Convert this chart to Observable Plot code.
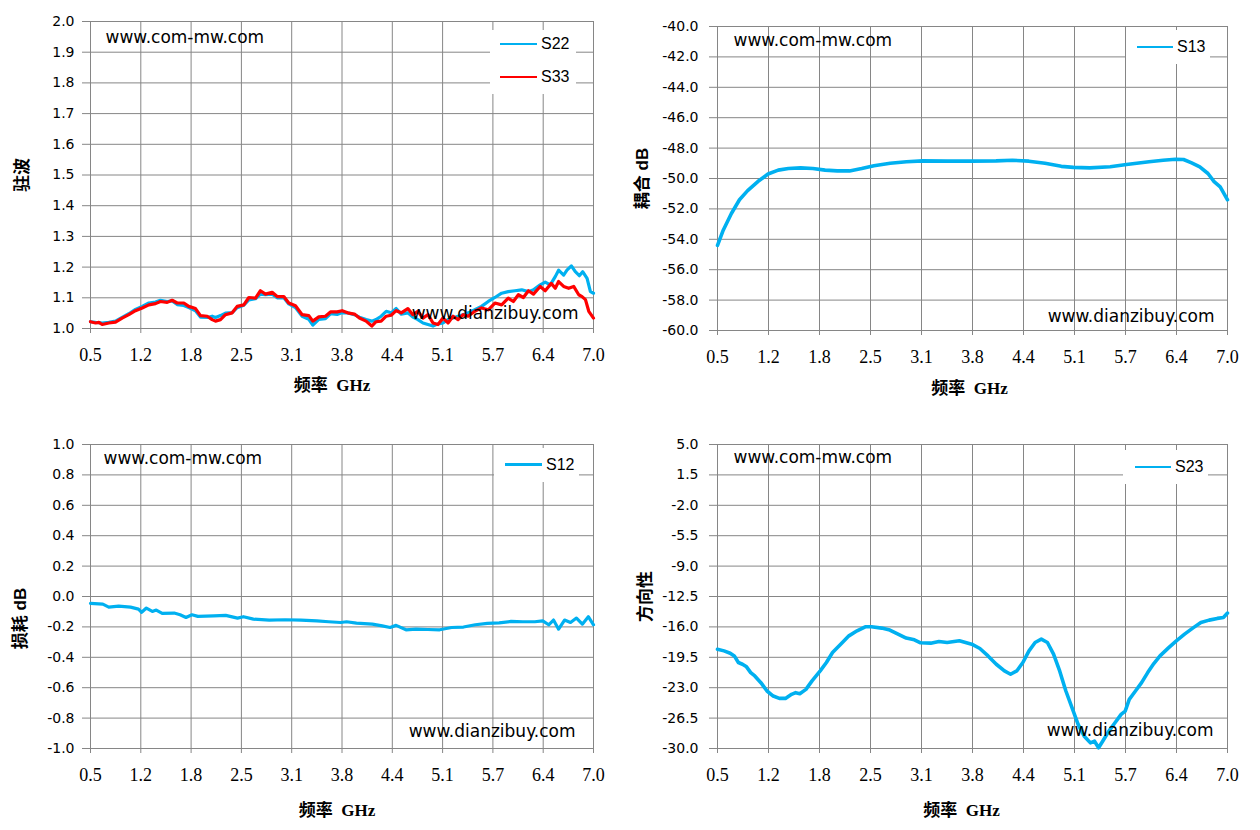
<!DOCTYPE html>
<html>
<head>
<meta charset="utf-8">
<script src="https://cdn.jsdelivr.net/npm/d3@7"></script>
<script src="https://cdn.jsdelivr.net/npm/@observablehq/plot@0.6"></script>
<style>
  body { margin: 0; background: #fff; }
  #root { position: relative; width: 1260px; height: 830px; background: #fff; overflow: hidden; }
  .panel { position: absolute; }
  .panel svg { display: block; overflow: visible; }
  g[aria-label="x-axis tick label"] { font-family: "Liberation Serif", serif; font-size: 18px; }
  g[aria-label="y-axis tick label"] { font-family: "DejaVu Sans", sans-serif; font-size: 14px; }
  g[aria-label="x-axis tick"], g[aria-label="y-axis tick"] { stroke: #868686; }
  g[aria-label="text"] text { white-space: pre; }
  .legend { position: absolute; background: #fff; }
  .legend .sw { position: absolute; height: 2.5px; }
  .legend .lb { position: absolute; font: 16px "Liberation Sans", sans-serif; line-height: 16px; color: #000; }
</style>
</head>
<body>
<div id="root"></div>
<script>
// ---------------- data (frequency GHz, value) ----------------
const xTickValues = [0.5, 1.15, 1.8, 2.45, 3.1, 3.75, 4.4, 5.05, 5.7, 6.35, 7.0];
const xTickLabels = ["0.5", "1.2", "1.8", "2.5", "3.1", "3.8", "4.4", "5.1", "5.7", "6.4", "7.0"];

const vswrTicks = [1.0, 1.1, 1.2, 1.3, 1.4, 1.5, 1.6, 1.7, 1.8, 1.9, 2.0];
const vswrLabels = ["1.0", "1.1", "1.2", "1.3", "1.4", "1.5", "1.6", "1.7", "1.8", "1.9", "2.0"];
const couplingTicks = [-60, -58, -56, -54, -52, -50, -48, -46, -44, -42, -40];
const couplingLabels = ["-60.0", "-58.0", "-56.0", "-54.0", "-52.0", "-50.0", "-48.0", "-46.0", "-44.0", "-42.0", "-40.0"];
const lossTicks = [-1.0, -0.8, -0.6, -0.4, -0.2, 0.0, 0.2, 0.4, 0.6, 0.8, 1.0];
const lossLabels = ["-1.0", "-0.8", "-0.6", "-0.4", "-0.2", "0.0", "0.2", "0.4", "0.6", "0.8", "1.0"];
const dirTicks = [-30, -26.5, -23, -19.5, -16, -12.5, -9, -5.5, -2, 1.5, 5];
const dirLabels = ["-30.0", "-26.5", "-23.0", "-19.5", "-16.0", "-12.5", "-9.0", "-5.5", "-2.0", "1.5", "5.0"];

const s22 = [
  [0.5,1.022],[0.565,1.02],[0.608,1.019],[0.651,1.018],[0.737,1.02],[0.823,1.024],[0.909,1.036],[0.995,1.048],
  [1.081,1.062],[1.168,1.072],[1.254,1.083],[1.34,1.086],[1.404,1.092],[1.491,1.088],[1.555,1.09],[1.62,1.078],
  [1.706,1.075],[1.77,1.068],[1.857,1.058],[1.921,1.037],[2.008,1.036],[2.072,1.04],[2.115,1.036],[2.18,1.042],
  [2.244,1.05],[2.331,1.052],[2.395,1.068],[2.481,1.076],[2.546,1.093],[2.632,1.097],[2.696,1.112],[2.761,1.11],
  [2.847,1.112],[2.912,1.1],[2.998,1.1],[3.062,1.08],[3.149,1.068],[3.235,1.04],[3.321,1.03],[3.373,1.011],
  [3.45,1.03],[3.536,1.032],[3.601,1.048],[3.687,1.046],[3.752,1.052],[3.823,1.051],[3.91,1.045],[3.975,1.037],
  [4.061,1.029],[4.135,1.024],[4.19,1.029],[4.256,1.04],[4.321,1.056],[4.385,1.051],[4.45,1.065],[4.515,1.047],
  [4.601,1.051],[4.666,1.037],[4.731,1.029],[4.796,1.018],[4.861,1.013],[4.926,1.008],[4.99,1.015],[5.055,1.018],
  [5.12,1.029],[5.185,1.034],[5.25,1.04],[5.315,1.045],[5.38,1.051],[5.466,1.061],[5.553,1.072],[5.64,1.088],
  [5.726,1.101],[5.813,1.115],[5.898,1.12],[5.985,1.123],[6.072,1.126],[6.159,1.12],[6.224,1.126],[6.311,1.142],
  [6.376,1.151],[6.441,1.142],[6.506,1.169],[6.549,1.19],[6.614,1.174],[6.657,1.19],[6.714,1.204],[6.765,1.185],
  [6.817,1.172],[6.86,1.185],[6.917,1.163],[6.96,1.12],[7.0,1.115]
];
const s33 = [
  [0.5,1.022],[0.565,1.018],[0.608,1.02],[0.651,1.013],[0.737,1.018],[0.823,1.021],[0.909,1.034],[0.995,1.045],
  [1.081,1.058],[1.168,1.067],[1.254,1.077],[1.34,1.081],[1.404,1.088],[1.491,1.085],[1.555,1.092],[1.62,1.083],
  [1.706,1.083],[1.77,1.072],[1.857,1.065],[1.921,1.042],[2.008,1.04],[2.072,1.029],[2.115,1.024],[2.18,1.029],
  [2.244,1.045],[2.331,1.051],[2.395,1.072],[2.481,1.077],[2.546,1.101],[2.632,1.099],[2.696,1.123],[2.761,1.112],
  [2.847,1.118],[2.912,1.104],[2.998,1.104],[3.062,1.083],[3.149,1.074],[3.235,1.045],[3.321,1.042],[3.373,1.024],
  [3.45,1.038],[3.536,1.04],[3.601,1.054],[3.687,1.054],[3.752,1.058],[3.823,1.051],[3.91,1.047],[3.975,1.034],
  [4.061,1.024],[4.135,1.008],[4.19,1.022],[4.256,1.024],[4.321,1.04],[4.385,1.043],[4.45,1.058],[4.515,1.051],
  [4.601,1.065],[4.666,1.045],[4.731,1.056],[4.796,1.034],[4.861,1.045],[4.926,1.018],[4.99,1.013],[5.055,1.034],
  [5.12,1.018],[5.185,1.04],[5.25,1.029],[5.315,1.045],[5.38,1.04],[5.466,1.056],[5.553,1.067],[5.64,1.061],
  [5.726,1.083],[5.813,1.077],[5.898,1.099],[5.964,1.088],[6.029,1.11],[6.094,1.101],[6.159,1.123],[6.224,1.112],
  [6.311,1.137],[6.376,1.123],[6.454,1.147],[6.506,1.131],[6.549,1.153],[6.614,1.137],[6.679,1.131],[6.744,1.137],
  [6.809,1.11],[6.852,1.104],[6.896,1.094],[6.939,1.056],[7.0,1.034]
];
const s13 = [
  [0.5,-54.4],[0.573,-53.4],[0.677,-52.3],[0.78,-51.4],[0.884,-50.8],[1.014,-50.2],[1.144,-49.7],[1.274,-49.45],
  [1.403,-49.34],[1.559,-49.3],[1.715,-49.34],[1.871,-49.45],[2.026,-49.5],[2.182,-49.5],[2.338,-49.34],[2.494,-49.16],
  [2.701,-49.0],[2.909,-48.9],[3.117,-48.84],[3.428,-48.86],[3.74,-48.86],[4.051,-48.84],[4.259,-48.8],[4.467,-48.86],
  [4.674,-49.0],[4.882,-49.2],[5.038,-49.27],[5.245,-49.3],[5.505,-49.23],[5.713,-49.08],[6.0,-48.9],[6.18,-48.8],
  [6.336,-48.73],[6.44,-48.75],[6.543,-48.97],[6.647,-49.23],[6.751,-49.67],[6.829,-50.2],[6.907,-50.55],[7.0,-51.4]
];
const s12 = [
  [0.5,-0.045],[0.659,-0.05],[0.736,-0.07],[0.864,-0.063],[1.017,-0.07],[1.12,-0.083],[1.161,-0.104],[1.222,-0.076],
  [1.299,-0.098],[1.35,-0.089],[1.427,-0.111],[1.581,-0.109],[1.658,-0.12],[1.734,-0.138],[1.811,-0.12],[1.888,-0.131],
  [2.093,-0.127],[2.247,-0.124],[2.4,-0.142],[2.477,-0.133],[2.605,-0.149],[2.81,-0.155],[3.015,-0.153],[3.22,-0.155],
  [3.425,-0.16],[3.578,-0.166],[3.732,-0.171],[3.809,-0.166],[3.937,-0.175],[4.142,-0.182],[4.27,-0.193],[4.372,-0.204],
  [4.449,-0.19],[4.577,-0.219],[4.705,-0.215],[4.859,-0.217],[5.012,-0.219],[5.166,-0.204],[5.32,-0.201],[5.473,-0.186],
  [5.627,-0.177],[5.781,-0.173],[5.935,-0.164],[6.088,-0.166],[6.242,-0.166],[6.344,-0.16],[6.421,-0.186],[6.483,-0.155],
  [6.549,-0.215],[6.626,-0.155],[6.703,-0.171],[6.78,-0.142],[6.856,-0.182],[6.933,-0.133],[7.0,-0.186]
];
const s23 = [
  [0.5,-18.57],[0.583,-18.76],[0.662,-19.03],[0.714,-19.34],[0.766,-20.1],[0.818,-20.3],[0.87,-20.6],[0.923,-21.26],
  [0.975,-21.65],[1.053,-22.42],[1.131,-23.38],[1.21,-23.96],[1.288,-24.23],[1.366,-24.23],[1.444,-23.76],[1.496,-23.57],
  [1.549,-23.69],[1.627,-23.19],[1.705,-22.22],[1.809,-21.07],[1.888,-20.1],[1.966,-18.95],[2.07,-17.99],[2.175,-17.03],
  [2.279,-16.45],[2.383,-15.99],[2.462,-15.99],[2.592,-16.14],[2.696,-16.37],[2.801,-16.83],[2.905,-17.29],[3.009,-17.49],
  [3.088,-17.83],[3.218,-17.87],[3.322,-17.68],[3.427,-17.8],[3.583,-17.6],[3.74,-17.99],[3.844,-18.49],[3.948,-19.34],
  [4.053,-20.3],[4.157,-21.07],[4.235,-21.45],[4.314,-21.07],[4.392,-20.1],[4.47,-18.76],[4.548,-17.8],[4.627,-17.41],
  [4.705,-17.8],[4.783,-19.14],[4.861,-21.07],[4.94,-23.38],[5.018,-25.3],[5.096,-27.23],[5.174,-28.58],[5.253,-29.35],
  [5.305,-29.16],[5.357,-29.92],[5.409,-29.16],[5.488,-28.0],[5.566,-27.04],[5.644,-26.07],[5.696,-25.69],[5.748,-24.34],
  [5.827,-23.38],[5.905,-22.42],[5.983,-21.26],[6.061,-20.22],[6.14,-19.34],[6.244,-18.45],[6.348,-17.6],[6.453,-16.83],
  [6.557,-16.14],[6.661,-15.49],[6.766,-15.22],[6.87,-15.02],[6.948,-14.91],[7.0,-14.41]
];

const BLUE = "#00B0F0";
const RED = "#FF0000";
const GRID = "#868686";

const rows = (pairs, series) => pairs.map(([f, v]) => ({f, v, series}));

function panel(cfg) {
  const wrap = document.createElement("div");
  wrap.className = "panel";
  wrap.style.left = cfg.left + "px";
  wrap.style.top = cfg.top + "px";
  const chart = Plot.plot({
    width: cfg.width, height: cfg.height,
    marginLeft: cfg.mL, marginRight: cfg.mR, marginTop: cfg.mT, marginBottom: cfg.mB,
    style: {background: "#fff", color: "#000"},
    x: {domain: [0.5, 7.0], ticks: xTickValues, tickFormat: d => xTickLabels[xTickValues.indexOf(d)],
        tickSize: 5, tickPadding: 15, label: null},
    y: {domain: cfg.yDomain, ticks: cfg.yTicks, tickFormat: d => cfg.yLabels[cfg.yTicks.indexOf(d)],
        tickSize: 8, tickPadding: cfg.yPad, label: null},
    marks: [
      Plot.gridX(xTickValues, {stroke: GRID, strokeOpacity: 1, strokeWidth: 1}),
      Plot.gridY(cfg.yTicks, {stroke: GRID, strokeOpacity: 1, strokeWidth: 1}),
      ...cfg.series.map(s => Plot.line(rows(s.data, s.name), {
        x: "f", y: "v", stroke: s.color, strokeWidth: s.width, strokeLinejoin: "round", strokeLinecap: "round"
      })),
      Plot.text(["www.com-mw.com"], {frameAnchor: "top-left", dx: cfg.w1[0], dy: cfg.w1[1],
        textAnchor: "start", lineAnchor: "middle", fontSize: 17, fontFamily: "DejaVu Sans", fill: "#000"}),
      Plot.text(["www.dianzibuy.com"], {frameAnchor: "bottom-right", dx: -cfg.w2[0], dy: -cfg.w2[1],
        textAnchor: "end", lineAnchor: "middle", fontSize: 17, fontFamily: "DejaVu Sans", fill: "#000"}),
      Plot.text(["频率  GHz"], {frameAnchor: "bottom", dx: cfg.xt[0], dy: cfg.xt[1],
        textAnchor: "middle", lineAnchor: "middle", fontSize: 17, fontWeight: "bold",
        fontFamily: "'Liberation Serif', 'Noto Sans CJK SC'", fill: "#000"}),
      Plot.text([cfg.yTitle], {frameAnchor: "left", dx: cfg.yt[0], dy: cfg.yt[1], rotate: -90,
        textAnchor: "middle", lineAnchor: "middle", fontSize: 17, fontWeight: "bold",
        fontFamily: "'Liberation Sans', 'Noto Sans CJK SC'", fill: "#000"})
    ]
  });
  wrap.appendChild(chart);
  document.getElementById("root").appendChild(wrap);

  // legend box (white, no border)
  const lg = document.createElement("div");
  lg.className = "legend";
  const L = cfg.legend;
  lg.style.left = L.x + "px"; lg.style.top = L.y + "px";
  lg.style.width = L.w + "px"; lg.style.height = L.h + "px";
  L.items.forEach((it, i) => {
    const sw = document.createElement("div");
    sw.className = "sw";
    sw.style.left = L.lineX + "px"; sw.style.width = L.lineW + "px";
    sw.style.top = (it.cy - 1.25) + "px";
    sw.style.background = it.color;
    lg.appendChild(sw);
    const lb = document.createElement("div");
    lb.className = "lb";
    lb.style.left = L.textX + "px";
    lb.style.top = (it.cy - 8) + "px";
    lb.textContent = it.name;
    lg.appendChild(lb);
  });
  document.getElementById("root").appendChild(lg);
}

panel({
  left: 0, top: 0, width: 620, height: 410, mL: 90, mR: 27, mT: 21, mB: 82,
  yDomain: [1.0, 2.0], yTicks: vswrTicks, yLabels: vswrLabels, yPad: 8,
  series: [{name: "S22", data: s22, color: BLUE, width: 3.2}, {name: "S33", data: s33, color: RED, width: 3.2}],
  w1: [15, 16], w2: [15, 15], xt: [-10, 57], yt: [-68, 0], yTitle: "驻波",
  legend: {x: 490, y: 30, w: 86, h: 64, lineX: 10, lineW: 37, textX: 51,
    items: [{name: "S22", color: BLUE, cy: 14}, {name: "S33", color: RED, cy: 47}]}
});
panel({
  left: 620, top: 0, width: 640, height: 410, mL: 97, mR: 33, mT: 26, mB: 80,
  yDomain: [-60, -40], yTicks: couplingTicks, yLabels: couplingLabels, yPad: 11,
  series: [{name: "S13", data: s13, color: BLUE, width: 3.6}],
  w1: [16, 14], w2: [13, 14], xt: [-3, 58], yt: [-75, 0], yTitle: "耦合 dB",
  legend: {x: 1126, y: 30, w: 84, h: 34, lineX: 11, lineW: 36, textX: 51,
    items: [{name: "S13", color: BLUE, cy: 17}]}
});
panel({
  left: 0, top: 420, width: 620, height: 410, mL: 90, mR: 27, mT: 24, mB: 82,
  yDomain: [-1.0, 1.0], yTicks: lossTicks, yLabels: lossLabels, yPad: 8,
  series: [{name: "S12", data: s12, color: BLUE, width: 3.2}],
  w1: [13, 14], w2: [18, 17], xt: [-5, 62], yt: [-70, 22], yTitle: "损耗 dB",
  legend: {x: 494, y: 448, w: 85, h: 34, lineX: 11, lineW: 37, textX: 52,
    items: [{name: "S12", color: BLUE, cy: 16.5}]}
});
panel({
  left: 620, top: 420, width: 640, height: 410, mL: 97, mR: 33, mT: 24, mB: 82,
  yDomain: [-30, 5], yTicks: dirTicks, yLabels: dirLabels, yPad: 11,
  series: [{name: "S23", data: s23, color: BLUE, width: 3.6}],
  w1: [16, 13], w2: [14, 18], xt: [-11, 62], yt: [-72, 0], yTitle: "方向性",
  legend: {x: 1123, y: 450, w: 85, h: 34, lineX: 12, lineW: 36, textX: 52,
    items: [{name: "S23", color: BLUE, cy: 17}]}
});
</script>
</body>
</html>
